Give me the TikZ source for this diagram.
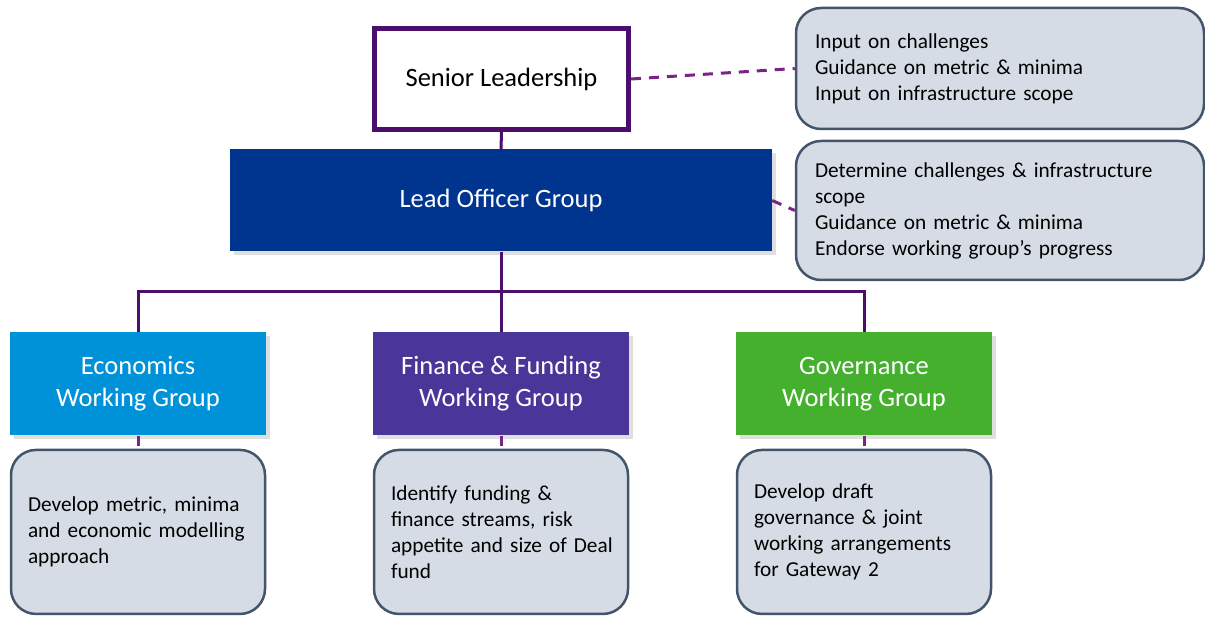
\documentclass[tikz,border=0pt]{standalone}
\usepackage{fontspec}
\setmainfont{Carlito}
\usepackage{xcolor}
\usetikzlibrary{positioning,shadows}

\definecolor{slpurple}{HTML}{4B0E6B}
\definecolor{logblue}{HTML}{00358F}
\definecolor{econblue}{HTML}{0092D8}
\definecolor{finpurple}{HTML}{4A3698}
\definecolor{govgreen}{HTML}{44B02D}
\definecolor{notefill}{HTML}{D6DCE5}
\definecolor{noteedge}{HTML}{44546A}
\definecolor{dashpurple}{HTML}{7B2386}

\begin{document}
\begin{tikzpicture}[x=1pt, y=-1pt,
  title/.style = {font=\fontsize{26.5}{32}\selectfont, align=center,
                  inner sep=0pt},
  group/.style = {title, text=white, minimum width=256pt,
                  minimum height=103pt,
                  drop shadow={shadow xshift=4pt, shadow yshift=-4pt,
                               opacity=0.25}},
  note/.style  = {draw=noteedge, line width=2.5pt, fill=notefill,
                  rounded corners=25pt, align=left, inner sep=0pt,
                  font=\fontsize{21.3}{26}\selectfont},
  lownote/.style = {note, minimum width=254pt, minimum height=164pt,
                    text width=220pt},
  sidenote/.style = {note, minimum width=408pt, text width=370pt},
  tree/.style  = {draw=slpurple, line width=3pt},
  dashline/.style = {draw=dashpurple, line width=3pt,
                     dash pattern=on 10pt off 8pt},
]
\useasboundingbox (0,0) rectangle (1205,617);

% top of the hierarchy
\node[title, draw=slpurple, line width=5pt, fill=white,
      minimum width=254pt, minimum height=101pt] (sl) at (501.5,79)
  {Senior Leadership};
\node[title, text=white, fill=logblue, minimum width=542pt,
      minimum height=102pt,
      drop shadow={shadow xshift=4pt, shadow yshift=-4pt, opacity=0.25}]
  (log) at (501,200.5) {Lead Officer Group};

% working groups
\node[group, fill=econblue] (econ) at (138,384) {Economics\\Working Group};
\node[group, fill=finpurple] (fin) at (501,384) {Finance \& Funding\\Working Group};
\node[group, fill=govgreen] (gov) at (864,384) {Governance\\Working Group};

% remits of the working groups
\node[lownote, below=13pt of econ] (econnote)
  {Develop metric, minima\\and economic modelling\\approach};
\node[lownote, below=13pt of fin] (finnote)
  {Identify funding \&\\finance streams, risk\\appetite~and~size~of~Deal\\fund};
\node[lownote, below=13pt of gov] (govnote)
  {Develop draft\\governance \& joint\\working arrangements\\for Gateway 2};

% side notes
\node[sidenote, minimum height=121pt] (slnote) at (1000,68.5)
  {Input on challenges\\Guidance on metric \& minima\\Input on infrastructure scope};
\node[sidenote, minimum height=139pt] (lognote) at (1000,210.5)
  {Determine challenges \& infrastructure\\scope\\Guidance on metric \& minima\\Endorse working group’s progress};

% connectors
\coordinate (bus) at (501,292);
\draw[tree] (sl.south) -- (log.north);
\draw[tree] (log.south) -- (fin.north);
\draw[tree] (econ.north) |- (bus) -| (gov.north);

\draw[dashline] (sl.east) -- (slnote.west);
\draw[dashline] (log.east) -- (lognote.west);
\draw[dashline] (econ.south) -- (econnote.north);
\draw[dashline] (fin.south) -- (finnote.north);
\draw[dashline] (gov.south) -- (govnote.north);

\end{tikzpicture}
\end{document}
